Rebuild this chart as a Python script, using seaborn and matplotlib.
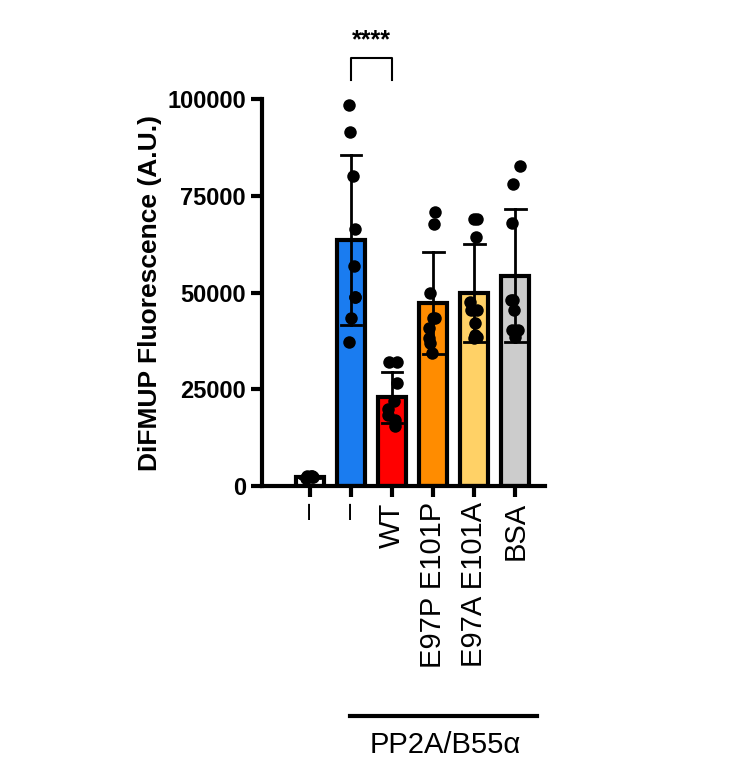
import matplotlib
matplotlib.use("Agg")
import matplotlib.pyplot as plt
import seaborn as sns
import pandas as pd

categories = ["–", "– ", "WT", "E97P E101P", "E97A E101A", "BSA"]
colors = ["#ffffff", "#1a7cf0", "#ff0000", "#ff8c00", "#ffd166", "#cccccc"]
values = [
    [2200, 2600, 2400, 2800, 2300, 2700, 2500, 2200],
    [98400, 91500, 80100, 66400, 56800, 48800, 48800, 43400, 37200],
    [32000, 32000, 26600, 22000, 20000, 18500, 17000, 15500],
    [70800, 67700, 49900, 43400, 43400, 40800, 38200, 34400, 37000],
    [69000, 69000, 64300, 47500, 45500, 45500, 42100, 38200, 39000, 38500],
    [82700, 78000, 68000, 48000, 48000, 45500, 40300, 40300, 38500],
]
yticks = [0, 25000, 50000, 75000, 100000]

rows = [(c, v) for c, vs in zip(categories, values) for v in vs]
df = pd.DataFrame(rows, columns=["group", "value"])

plt.rcParams["font.family"] = "Liberation Sans"
fig = plt.figure(figsize=(7.32, 7.72), dpi=100)
ax = fig.add_axes([0.358, 0.370, 0.387, 0.502])

sns.barplot(data=df, x="group", y="value", order=categories, palette=colors,
            hue="group", legend=False, errorbar="sd", width=0.68, saturation=1,
            edgecolor="black", linewidth=3, capsize=0.5,
            err_kws={"color": "black", "linewidth": 2}, ax=ax)
sns.stripplot(data=df, x="group", y="value", order=categories, color="black",
              size=9, jitter=0.12, ax=ax)

ax.set_xlim(-1.17, 5.73)
ax.set_ylim(0, 100000)
ax.set_yticks(yticks)
ax.set_yticklabels([str(t) for t in yticks], fontsize=17, fontweight="bold")
ax.set_xticks(range(len(categories)))
ax.set_xticklabels([c.strip() for c in categories], rotation=90, fontsize=21)
ax.set_xlabel("")
ax.set_ylabel("DiFMUP Fluorescence (A.U.)", fontsize=19, fontweight="bold")
for s in ["top", "right"]:
    ax.spines[s].set_visible(False)
for s in ["left", "bottom"]:
    ax.spines[s].set_linewidth(3)
ax.tick_params(width=3, length=8)

# significance bracket
ax.plot([1, 1, 2, 2], [104900, 110600, 110600, 104900], color="black", lw=1.5, clip_on=False)
ax.text(1.5, 112000, "****", ha="center", va="bottom", fontsize=18, fontweight="bold")

# group line
fig.add_artist(plt.Line2D([350/732, 537/732], [1-716/772, 1-716/772], color="black", lw=3))
fig.text(445/732, 1-745/772, "PP2A/B55α", ha="center", va="center", fontsize=21)

fig.savefig("out.png", dpi=100)
